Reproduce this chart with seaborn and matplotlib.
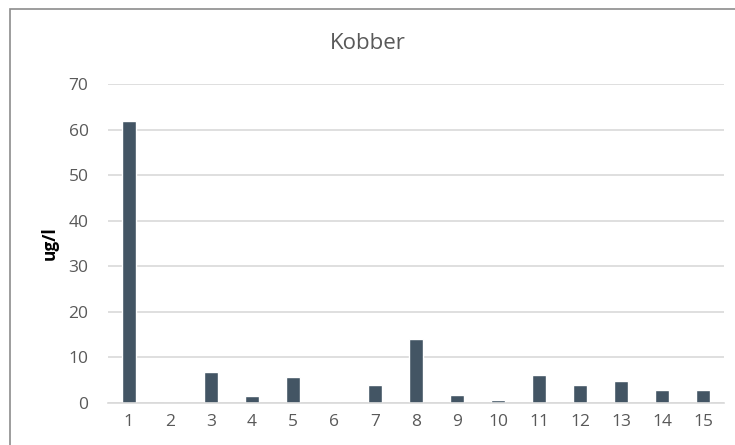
import pandas as pd
import matplotlib.pyplot as plt
import seaborn as sns
from matplotlib.patches import Rectangle

# sample numbers and copper concentration (ug/l)
samples = [str(i) for i in range(1, 16)]
values = [61.8, 0, 6.7, 1.6, 5.8, 0, 4.0, 14.1, 1.8, 0.6, 6.2, 4.0, 4.9, 2.8, 2.9]
y_ticks = [0, 10, 20, 30, 40, 50, 60, 70]

def main():
    df = pd.DataFrame({'sample': samples, 'value': values})

    sns.set_style('white')
    plt.rcParams['font.family'] = ['Open Sans', 'DejaVu Sans']

    fig = plt.figure(figsize=(7.35, 4.45), dpi=100)
    ax = fig.add_axes([0.147, 0.0944, 0.838, 0.7166])

    sns.barplot(x='sample', y='value', data=df, ax=ax, color='#435564',
                width=0.34, saturation=1)

    ax.set_ylim(0, 70)
    ax.set_yticks(y_ticks)
    ax.set_xlim(-0.5, len(samples) - 0.5)
    ax.grid(axis='y', color='#D9D9D9', linewidth=1.2)
    ax.set_axisbelow(True)
    for side in ['top', 'right', 'left']:
        ax.spines[side].set_visible(False)
    ax.spines['bottom'].set_color('#D9D9D9')
    ax.spines['bottom'].set_linewidth(1.2)
    ax.tick_params(axis='both', length=0, labelsize=12.5, labelcolor='#595959')
    ax.tick_params(axis='y', pad=14)
    ax.tick_params(axis='x', pad=8)

    ax.set_xlabel('')
    ax.set_ylabel('ug/l', fontsize=12.5, fontweight='bold', color='black', labelpad=7)
    fig.text(0.50, 0.903, 'Kobber', ha='center', va='center', fontsize=16, color='#595959')

    # chart frame, cut off at the right and bottom
    fig.patches.append(Rectangle((10 / 735, -0.1), 1.2, (445 - 9) / 445 + 0.1,
                                 transform=fig.transFigure, fill=False,
                                 edgecolor='#8C8C8C', linewidth=1.2))

    fig.savefig('out.png', dpi=100)

if __name__ == "__main__":
    main()
